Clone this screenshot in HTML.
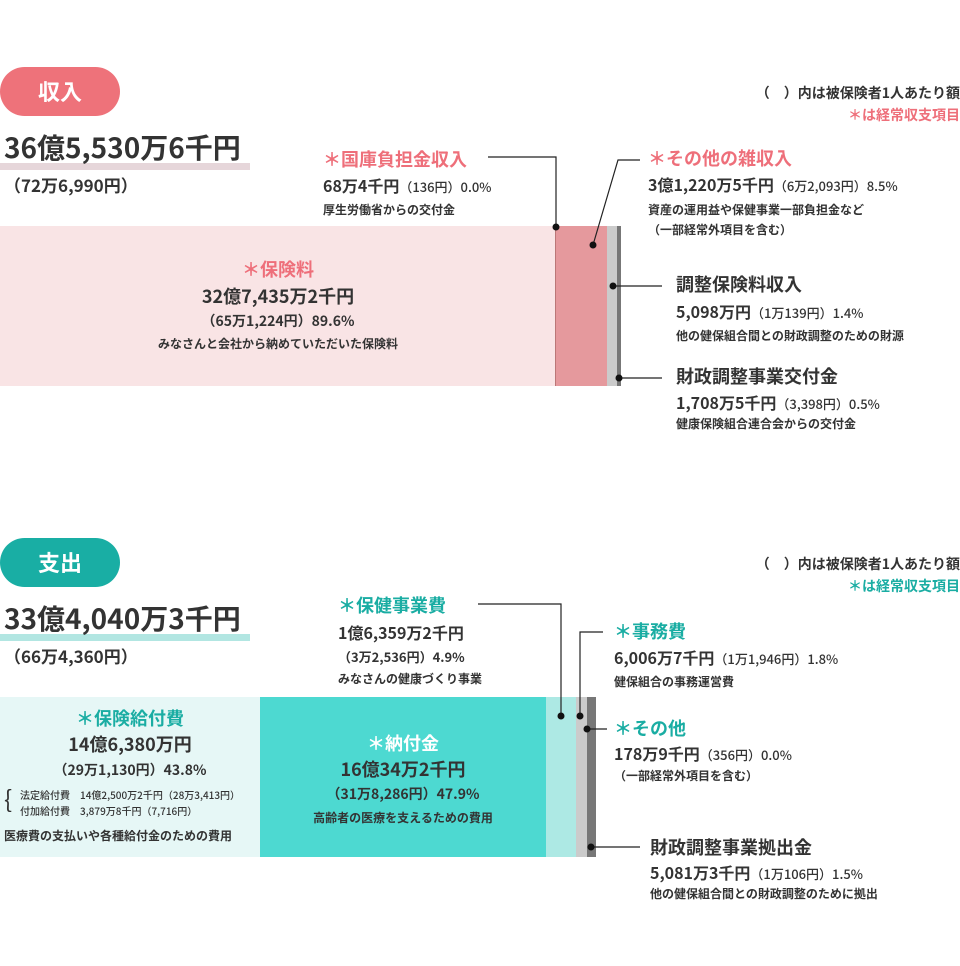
<!DOCTYPE html>
<html><head><meta charset="utf-8"><style>
*{margin:0;padding:0;box-sizing:border-box}
body{width:960px;height:966px;background:#fff;position:relative;overflow:hidden;font-family:"Noto Sans CJK JP","Liberation Sans",sans-serif;font-weight:700;color:#333}
.a{position:absolute;white-space:nowrap;line-height:1}
.c{transform:translateX(-50%)}
.r{right:0;text-align:right}
.pk{color:#ee6f7a}.tl{color:#1aada3}
.s12{font-size:12px}.s13{font-size:13px}.s14{font-size:14px}.s16{font-size:16px}.s17{font-size:17px}.s18{font-size:18px}
.b{position:absolute}
.pill{position:absolute;left:0;width:120px;height:49px;border-radius:25px;color:#fff;font-size:22px;text-align:center;line-height:49px}
.sm{font-size:13px;font-weight:500}
svg.top{z-index:5}
</style></head><body>

<div class="pill" style="top:67px;background:#ee727a">収入</div>
<div class="a r s14" style="top:86px">（　）内は被保険者1人あたり額</div>
<div class="a r s14 pk" style="top:108px">＊は経常収支項目</div>
<div class="b" style="left:0;top:163px;width:250px;height:7px;background:#e6d6da"></div>
<div class="a" style="left:4px;top:133px;font-size:28px">36億5,530万6千円</div>
<div class="a s17" style="left:4px;top:176px">（72万6,990円）</div>

<div class="b" style="left:0;top:226px;width:555px;height:160px;background:#f9e4e5"></div>
<div class="b" style="left:555px;top:226px;width:52px;height:160px;background:#e5999d;border-left:1px solid #b77"></div>
<div class="b" style="left:607px;top:226px;width:10px;height:160px;background:#cbcbcb"></div>
<div class="b" style="left:617px;top:226px;width:4px;height:160px;background:#777"></div>

<div class="a c s18 pk" style="left:278px;top:260px">＊保険料</div>
<div class="a c s18" style="left:278px;top:287px">32億7,435万2千円</div>
<div class="a c s14" style="left:278px;top:314px">（65万1,224円）89.6%</div>
<div class="a c s12" style="left:278px;top:338px">みなさんと会社から納めていただいた保険料</div>

<div class="a s18 pk" style="left:323px;top:150px">＊国庫負担金収入</div>
<div class="a s16" style="left:323px;top:177px">68万4千円<span class="sm">（136円）0.0%</span></div>
<div class="a s12" style="left:323px;top:204px">厚生労働省からの交付金</div>

<div class="a s18 pk" style="left:648px;top:149px">＊その他の雑収入</div>
<div class="a s16" style="left:648px;top:176px">3億1,220万5千円<span class="sm">（6万2,093円）8.5%</span></div>
<div class="a s12" style="left:648px;top:204px">資産の運用益や保健事業一部負担金など</div>
<div class="a s12" style="left:648px;top:224px">（一部経常外項目を含む）</div>

<div class="a s18" style="left:676px;top:275px">調整保険料収入</div>
<div class="a s16" style="left:676px;top:303px">5,098万円<span class="sm">（1万139円）1.4%</span></div>
<div class="a s12" style="left:676px;top:330px">他の健保組合間との財政調整のための財源</div>

<div class="a s18" style="left:676px;top:367px">財政調整事業交付金</div>
<div class="a s16" style="left:676px;top:394px">1,708万5千円<span class="sm">（3,398円）0.5%</span></div>
<div class="a s12" style="left:676px;top:418px">健康保険組合連合会からの交付金</div>

<div class="pill" style="top:538px;background:#19aea4">支出</div>
<div class="a r s14" style="top:557px">（　）内は被保険者1人あたり額</div>
<div class="a r s14 tl" style="top:579px">＊は経常収支項目</div>
<div class="b" style="left:0;top:634px;width:250px;height:7px;background:#b2e6e2"></div>
<div class="a" style="left:4px;top:604px;font-size:28px">33億4,040万3千円</div>
<div class="a s17" style="left:4px;top:647px">（66万4,360円）</div>

<div class="b" style="left:0;top:697px;width:260px;height:160px;background:#e6f7f6"></div>
<div class="b" style="left:260px;top:697px;width:286px;height:160px;background:#4dd9d1"></div>
<div class="b" style="left:546px;top:697px;width:30px;height:160px;background:#ade9e4"></div>
<div class="b" style="left:576px;top:697px;width:11px;height:160px;background:#cbcbcb"></div>
<div class="b" style="left:587px;top:697px;width:9px;height:160px;background:#777"></div>

<div class="a c s18 tl" style="left:130px;top:709px">＊保険給付費</div>
<div class="a c s18" style="left:130px;top:735px">14億6,380万円</div>
<div class="a c s14" style="left:130px;top:763px">（29万1,130円）43.8%</div>
<div class="a" style="left:4px;top:786px;font-size:24px;font-weight:400">{</div>
<div class="a" style="left:20px;top:790px;font-size:10px;font-weight:500">法定給付費　14億2,500万2千円（28万3,413円）</div>
<div class="a" style="left:20px;top:806px;font-size:10px;font-weight:500">付加給付費　3,879万8千円（7,716円）</div>
<div class="a s12" style="left:4px;top:830px">医療費の支払いや各種給付金のための費用</div>

<div class="a c s18" style="left:403px;top:734px;color:#fff">＊納付金</div>
<div class="a c s18" style="left:403px;top:760px">16億34万2千円</div>
<div class="a c s14" style="left:403px;top:787px">（31万8,286円）47.9%</div>
<div class="a c s12" style="left:403px;top:812px">高齢者の医療を支えるための費用</div>

<div class="a s18 tl" style="left:338px;top:596px">＊保健事業費</div>
<div class="a s16" style="left:338px;top:624px">1億6,359万2千円</div>
<div class="a s13" style="left:338px;top:650px">（3万2,536円）4.9%</div>
<div class="a s12" style="left:338px;top:673px">みなさんの健康づくり事業</div>

<div class="a s18 tl" style="left:614px;top:622px">＊事務費</div>
<div class="a s16" style="left:614px;top:649px">6,006万7千円<span class="sm">（1万1,946円）1.8%</span></div>
<div class="a s12" style="left:614px;top:676px">健保組合の事務運営費</div>

<div class="a s18 tl" style="left:614px;top:719px">＊その他</div>
<div class="a s16" style="left:614px;top:745px">178万9千円<span class="sm">（356円）0.0%</span></div>
<div class="a s12" style="left:614px;top:770px">（一部経常外項目を含む）</div>

<div class="a s18" style="left:650px;top:838px">財政調整事業拠出金</div>
<div class="a s16" style="left:650px;top:864px">5,081万3千円<span class="sm">（1万106円）1.5%</span></div>
<div class="a s12" style="left:650px;top:888px">他の健保組合間との財政調整のために拠出</div>

<svg class="b top" style="left:0;top:0" width="960" height="966">
<g stroke="#222" stroke-width="1.2" fill="none">
<polyline points="488,157 556,157 556,226"/>
<polyline points="640,160 618,160 593,245"/>
<line x1="613" y1="286" x2="662" y2="286"/>
<line x1="619" y1="378" x2="662" y2="378"/>
<polyline points="478,604 561,604 561,716"/>
<polyline points="603,632 580,632 580,716"/>
<line x1="587" y1="729" x2="607" y2="729"/>
<line x1="591" y1="847" x2="640" y2="847"/>
</g>
<g fill="#111">
<circle cx="556" cy="227" r="3.5"/><circle cx="593" cy="245" r="3.5"/><circle cx="613" cy="286" r="3.5"/><circle cx="619" cy="378" r="3.5"/>
<circle cx="561" cy="716" r="3.5"/><circle cx="580" cy="716" r="3.5"/><circle cx="587" cy="729" r="3.5"/><circle cx="591" cy="847" r="3.5"/></g>
</svg>
</body></html>
